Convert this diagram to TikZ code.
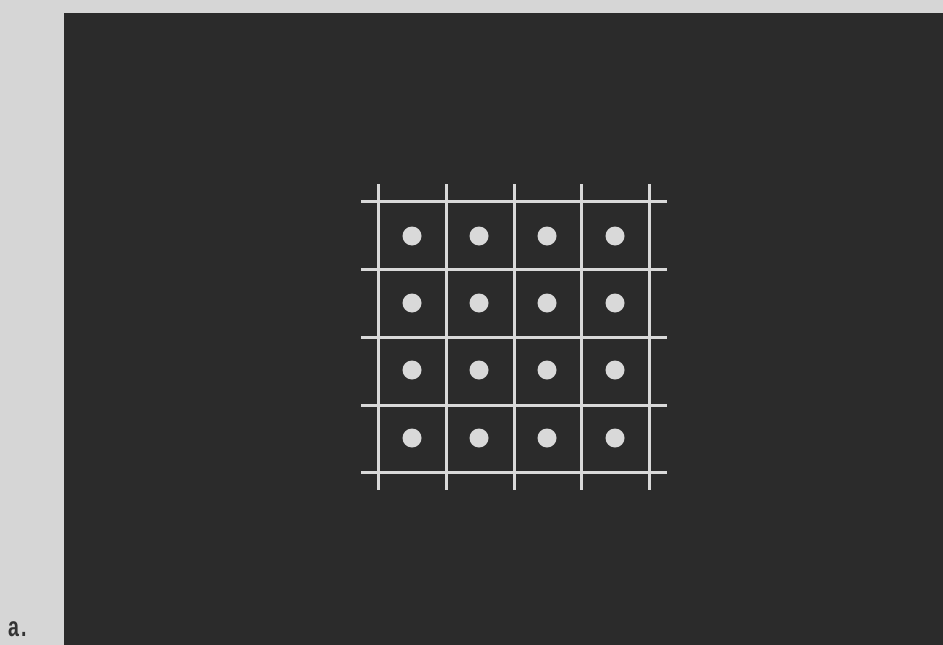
\documentclass[tikz,border=0pt]{standalone}
\usepackage{fontspec}
\setmainfont{Liberation Sans}
\usepackage{graphicx}
\definecolor{paper}{HTML}{D6D6D6}
\definecolor{board}{HTML}{2B2B2B}
\definecolor{ink}{HTML}{D9D9D9}
\begin{document}
\begin{tikzpicture}[x=1pt,y=-1pt,
  gridline/.style={draw=ink,line width=3pt},
  dot/.style={circle,fill=ink,inner sep=0pt,minimum size=19pt}]
\useasboundingbox (0,0) rectangle (943,645);
\fill[paper] (0,0) rectangle (943,645);
\fill[board] (64,13) rectangle (943,645);
% grid
\foreach \x in {378,446,514,581,649} \draw[gridline] (\x,184) -- (\x,490);
\foreach \y in {201,269,337,405,472} \draw[gridline] (361,\y) -- (667,\y);
% dots
\foreach \i/\x in {1/412,2/479,3/547,4/615}
  \foreach \j/\y in {1/236,2/303,3/370,4/438}
    \node[dot] (d\i\j) at (\x,\y) {};
\node[anchor=base west,inner sep=0pt,text=black!80] (lbl) at (8,636)
  {\scalebox{0.85}[1.2]{\fontsize{23}{23}\selectfont\bfseries a\hspace{2.5pt}.}};
\end{tikzpicture}
\end{document}
